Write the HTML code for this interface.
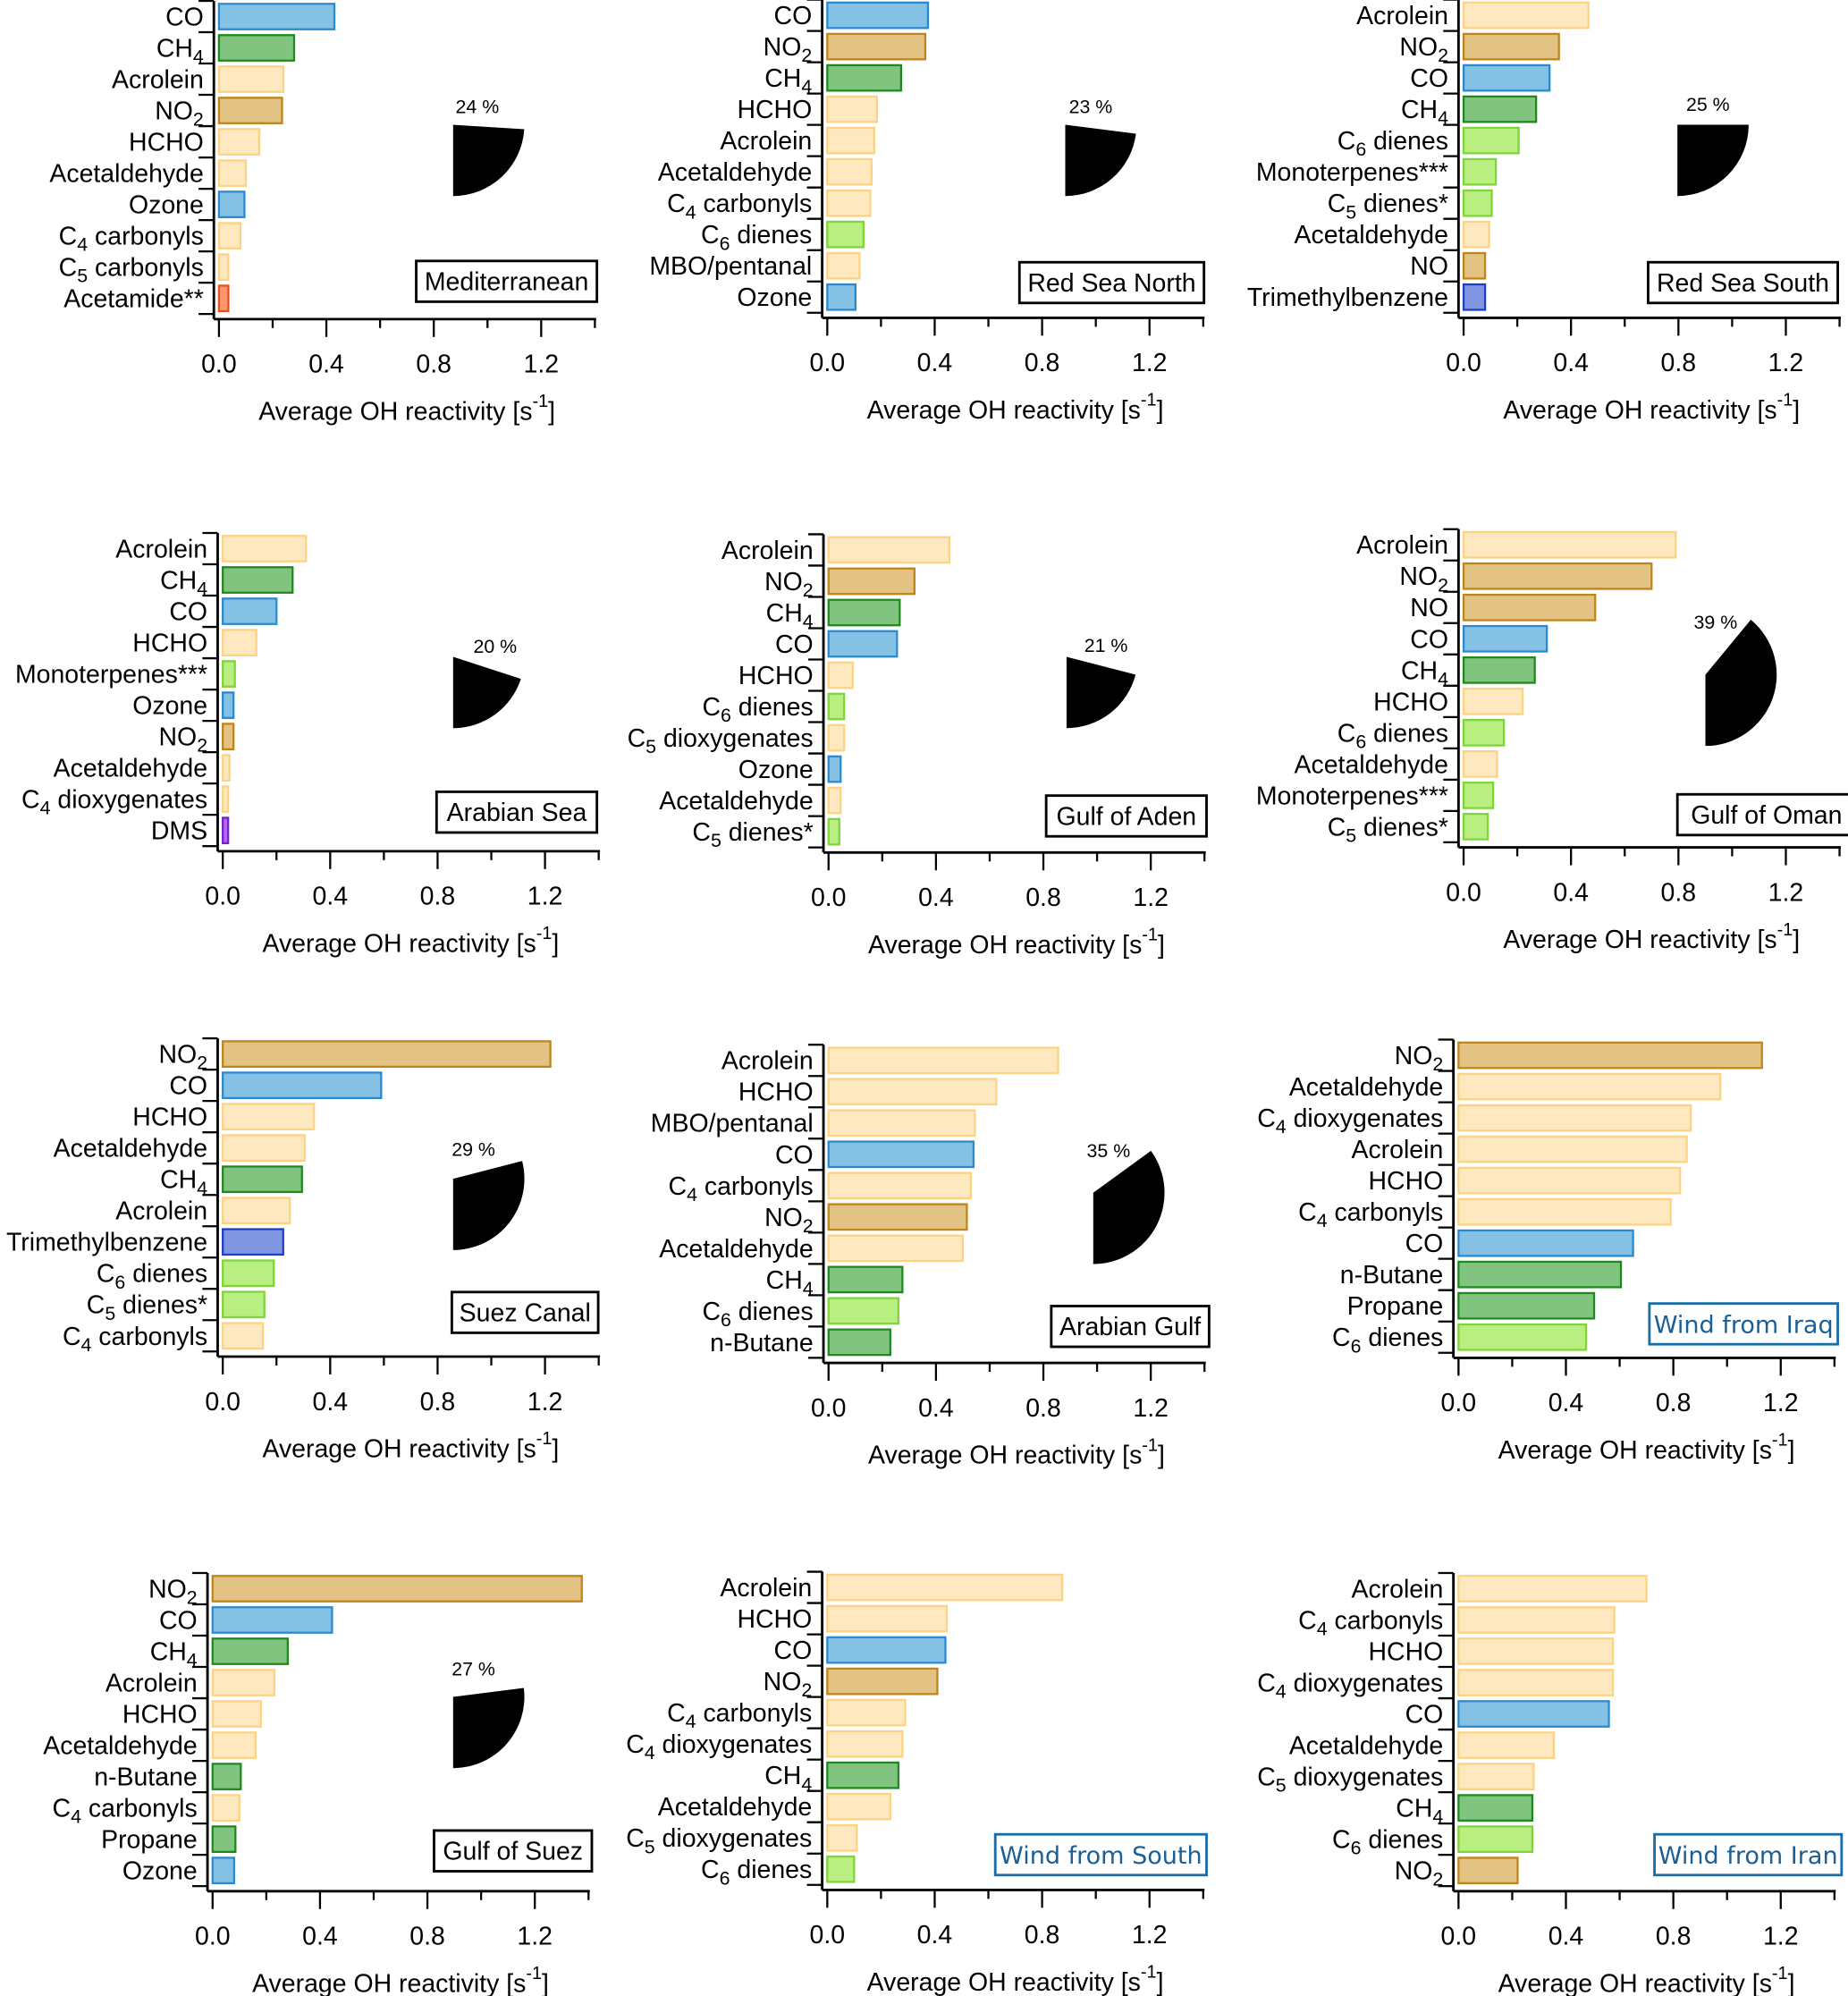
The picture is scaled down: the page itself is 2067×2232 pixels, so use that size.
<!DOCTYPE html>
<html><head><meta charset="utf-8"><style>
html,body{margin:0;padding:0;background:#fff;}
svg{display:block;}
text{font-family:"Liberation Sans",Arial,sans-serif;fill:#000;}
</style></head><body>
<svg id="chart" xmlns="http://www.w3.org/2000/svg" width="2067" height="2232" viewBox="0 0 1452 1568"></svg>
<script>
// ---- data ----
const medCats=["CO","CH_4","Acrolein","NO_2","HCHO","Acetaldehyde","Ozone","C_4 carbonyls","C_5 carbonyls","Acetamide**"];
const medVals=[0.43,0.28,0.24,0.235,0.15,0.10,0.095,0.08,0.035,0.035];
const rsnCats=["CO","NO_2","CH_4","HCHO","Acrolein","Acetaldehyde","C_4 carbonyls","C_6 dienes","MBO/pentanal","Ozone"];
const rsnVals=[0.375,0.365,0.275,0.185,0.175,0.165,0.16,0.135,0.12,0.105];
const rssCats=["Acrolein","NO_2","CO","CH_4","C_6 dienes","Monoterpenes***","C_5 dienes*","Acetaldehyde","NO","Trimethylbenzene"];
const rssVals=[0.465,0.355,0.32,0.27,0.205,0.12,0.105,0.095,0.08,0.08];
const asCats=["Acrolein","CH_4","CO","HCHO","Monoterpenes***","Ozone","NO_2","Acetaldehyde","C_4 dioxygenates","DMS"];
const asVals=[0.31,0.26,0.20,0.125,0.045,0.04,0.04,0.025,0.02,0.02];
const goaCats=["Acrolein","NO_2","CH_4","CO","HCHO","C_6 dienes","C_5 dioxygenates","Ozone","Acetaldehyde","C_5 dienes*"];
const goaVals=[0.45,0.32,0.265,0.255,0.09,0.058,0.058,0.045,0.045,0.04];
const gooCats=["Acrolein","NO_2","NO","CO","CH_4","HCHO","C_6 dienes","Acetaldehyde","Monoterpenes***","C_5 dienes*"];
const gooVals=[0.79,0.70,0.49,0.31,0.265,0.22,0.15,0.125,0.11,0.09];
const suezCats=["NO_2","CO","HCHO","Acetaldehyde","CH_4","Acrolein","Trimethylbenzene","C_6 dienes","C_5 dienes*","C_4 carbonyls"];
const suezVals=[1.22,0.59,0.34,0.305,0.295,0.25,0.225,0.19,0.155,0.15];
const agCats=["Acrolein","HCHO","MBO/pentanal","CO","C_4 carbonyls","NO_2","Acetaldehyde","CH_4","C_6 dienes","n-Butane"];
const agVals=[0.855,0.625,0.545,0.54,0.53,0.515,0.50,0.275,0.26,0.23];
const iraqCats=["NO_2","Acetaldehyde","C_4 dioxygenates","Acrolein","HCHO","C_4 carbonyls","CO","n-Butane","Propane","C_6 dienes"];
const iraqVals=[1.13,0.975,0.865,0.85,0.825,0.79,0.65,0.605,0.505,0.475];
const gosCats=["NO_2","CO","CH_4","Acrolein","HCHO","Acetaldehyde","n-Butane","C_4 carbonyls","Propane","Ozone"];
const gosVals=[1.375,0.445,0.28,0.23,0.18,0.16,0.105,0.10,0.085,0.08];
const southCats=["Acrolein","HCHO","CO","NO_2","C_4 carbonyls","C_4 dioxygenates","CH_4","Acetaldehyde","C_5 dioxygenates","C_6 dienes"];
const southVals=[0.875,0.445,0.44,0.41,0.29,0.28,0.265,0.235,0.11,0.10];
const iranCats=["Acrolein","C_4 carbonyls","HCHO","C_4 dioxygenates","CO","Acetaldehyde","C_5 dioxygenates","CH_4","C_6 dienes","NO_2"];
const iranVals=[0.70,0.58,0.575,0.575,0.56,0.355,0.28,0.275,0.275,0.22];
const piePercents=[24,23,25,20,21,39,29,35,27];
const tickValues=[0,0.2,0.4,0.6,0.8,1.0,1.2,1.4];
const tickLabels=["0.0","","0.4","","0.8","","1.2",""];

// ---- layout ----
const panels=[
 {id:"mediterranean",title:"Mediterranean",cats:medCats,vals:medVals,x0:172,y0:13,box:[327,205,142],pie:0,pc:[356,98],pl:[375,84]},
 {id:"red-sea-north",title:"Red Sea North",cats:rsnCats,vals:rsnVals,x0:650,y0:12,box:[801,206,145],pie:1,pc:[837,98],pl:[857,84]},
 {id:"red-sea-south",title:"Red Sea South",cats:rssCats,vals:rssVals,x0:1150,y0:12,box:[1295,206,149],pie:2,pc:[1318,98],pl:[1342,82]},
 {id:"arabian-sea",title:"Arabian Sea",cats:asCats,vals:asVals,x0:175,y0:431,box:[343,622,126],pie:3,pc:[356,516],pl:[389,508]},
 {id:"gulf-of-aden",title:"Gulf of Aden",cats:goaCats,vals:goaVals,x0:651,y0:432,box:[822,625,126],pie:4,pc:[838,516],pl:[869,507]},
 {id:"gulf-of-oman",title:"Gulf of Oman",cats:gooCats,vals:gooVals,x0:1150,y0:428,box:[1318,624,140],pie:5,pc:[1340,530],pl:[1348,489]},
 {id:"suez-canal",title:"Suez Canal",cats:suezCats,vals:suezVals,x0:175,y0:828,box:[355,1015,115],pie:6,pc:[356,926],pl:[372,903]},
 {id:"arabian-gulf",title:"Arabian Gulf",cats:agCats,vals:agVals,x0:651,y0:833,box:[826,1026,124],pie:7,pc:[859,937],pl:[871,904]},
 {id:"wind-from-iraq",title:"Wind from Iraq",cats:iraqCats,vals:iraqVals,x0:1146,y0:829,box:[1296,1024,148],blue:true},
 {id:"gulf-of-suez",title:"Gulf of Suez",cats:gosCats,vals:gosVals,x0:167,y0:1248,box:[341,1438,124],pie:8,pc:[356,1333],pl:[372,1311]},
 {id:"wind-from-south",title:"Wind from South",cats:southCats,vals:southVals,x0:650,y0:1247,box:[782,1441,166],blue:true},
 {id:"wind-from-iran",title:"Wind from Iran",cats:iranCats,vals:iranVals,x0:1146,y0:1248,box:[1300,1441,147],blue:true}
];
const STEP=24.6, PXU=211;
function colorFor(name){
  if(name==="CO"||name==="Ozone") return ["#85c1e5","#2a8ad0"];
  if(name==="CH_4"||name==="n-Butane"||name==="Propane") return ["#80c47f","#1e8a1e"];
  if(name==="NO_2"||name==="NO") return ["#e2c383","#c08418"];
  if(/dienes|Monoterpenes/.test(name)) return ["#b9ef80","#7fd43a"];
  if(name==="Acetamide**") return ["#f99770","#e8501e"];
  if(name==="Trimethylbenzene") return ["#8096e0","#1e3ec8"];
  if(name==="DMS") return ["#b06ce8","#7a1ed0"];
  return ["#fde8c0","#fcd383"];
}
const NS="http://www.w3.org/2000/svg";
const svg=document.getElementById("chart");
function mk(tag,attrs,parent){const e=document.createElementNS(NS,tag);for(const k in attrs)e.setAttribute(k,attrs[k]);(parent||svg).appendChild(e);return e;}
function setLabel(t,str){
  const parts=str.split(/_(\d)/);
  parts.forEach((p,i)=>{
    if(!p) return;
    const ts=mk("tspan",{},t);
    if(i%2===1){ts.setAttribute("font-size","15");ts.setAttribute("dy","5");}
    else if(i>0){ts.setAttribute("dy","-5");}
    ts.textContent=p;
  });
}
panels.forEach(p=>{
  const g=mk("g",{});
  
  
  const xs=v=>p.x0+v*PXU;
  const yc=i=>p.y0+i*STEP;
  const top=p.y0-STEP/2, axisY=yc(p.cats.length-1)+STEP/2+4;
  const ya=mk("line",{x1:p.x0-4,y1:top,x2:p.x0-4,y2:axisY,stroke:"#000","stroke-width":2},g);
  
  
  for(let i=0;i<=p.cats.length;i++){
    const y=top+i*STEP;
    const tk=mk("line",{x1:p.x0-16,y1:y,x2:p.x0-4,y2:y,stroke:"#000","stroke-width":1.6},g);
    
    
  }
  p.cats.forEach((c,i)=>{
    const [f,s]=colorFor(c);
    const r=mk("rect",{x:xs(0),y:yc(i)-10,width:Math.max(1,xs(p.vals[i])-xs(0)),height:20,fill:f,stroke:s,"stroke-width":1.6},g);
    
    
    const t=mk("text",{x:p.x0-12,y:yc(i)+7,"font-size":20,"text-anchor":"end"},g);
    
    
    setLabel(t,c);
  });
  const xa=mk("line",{x1:p.x0-4,y1:axisY,x2:xs(1.4)+1,y2:axisY,stroke:"#000","stroke-width":2},g);
  
  
  tickValues.forEach((v,i)=>{
    const major=tickLabels[i]!=="";
    const tk=mk("line",{x1:xs(v),y1:axisY,x2:xs(v),y2:axisY+(major?14:7),stroke:"#000","stroke-width":1.6},g);
    
    
    if(major){
      const tl=mk("text",{x:xs(v),y:axisY+42,"font-size":20,"text-anchor":"middle"},g);
      
      
      tl.textContent=tickLabels[i];
    }
  });
  const xt=mk("text",{x:xs(0.7),y:axisY+79,"font-size":20,"text-anchor":"middle"},g);
  
  
  const a=mk("tspan",{},xt);a.textContent="Average OH reactivity [s";
  const b=mk("tspan",{dy:-10,"font-size":14},xt);b.textContent="-1";
  const c2=mk("tspan",{dy:10},xt);c2.textContent="]";
  const [bx,by,bw]=p.box;
  const col=p.blue?"#1a6ea8":"#000";
  const lb=mk("rect",{x:bx,y:by,width:bw,height:32,fill:"#fff",stroke:col,"stroke-width":2},g);
  
  
  const lt=mk("text",{x:bx+bw/2,y:by+23,"font-size":p.blue?19:20,"text-anchor":"middle"},g);
  if(p.blue){lt.setAttribute("style","fill:#1a5f96;font-family:'DejaVu Sans',sans-serif");}
  
  
  lt.textContent=p.title;
  if(p.pie!==undefined){
    const pct=piePercents[p.pie];
    const [cx,cy]=p.pc, R=56;
    const a0=(90-pct*3.6)*Math.PI/180, a1=Math.PI/2;
    const x0=cx+R*Math.cos(a0), y0=cy+R*Math.sin(a0);
    const x1=cx+R*Math.cos(a1), y1=cy+R*Math.sin(a1);
    const large=pct>50?1:0;
    const w=mk("path",{d:`M${cx},${cy} L${x0},${y0} A${R},${R} 0 ${large} 1 ${x1},${y1} Z`,fill:"#000"},g);
    
    
    const pt=mk("text",{x:p.pl[0],y:p.pl[1]+5,"font-size":15,"text-anchor":"middle"},g);
    
    
    pt.textContent=pct+" %";
  }
});
</script>
</body></html>
